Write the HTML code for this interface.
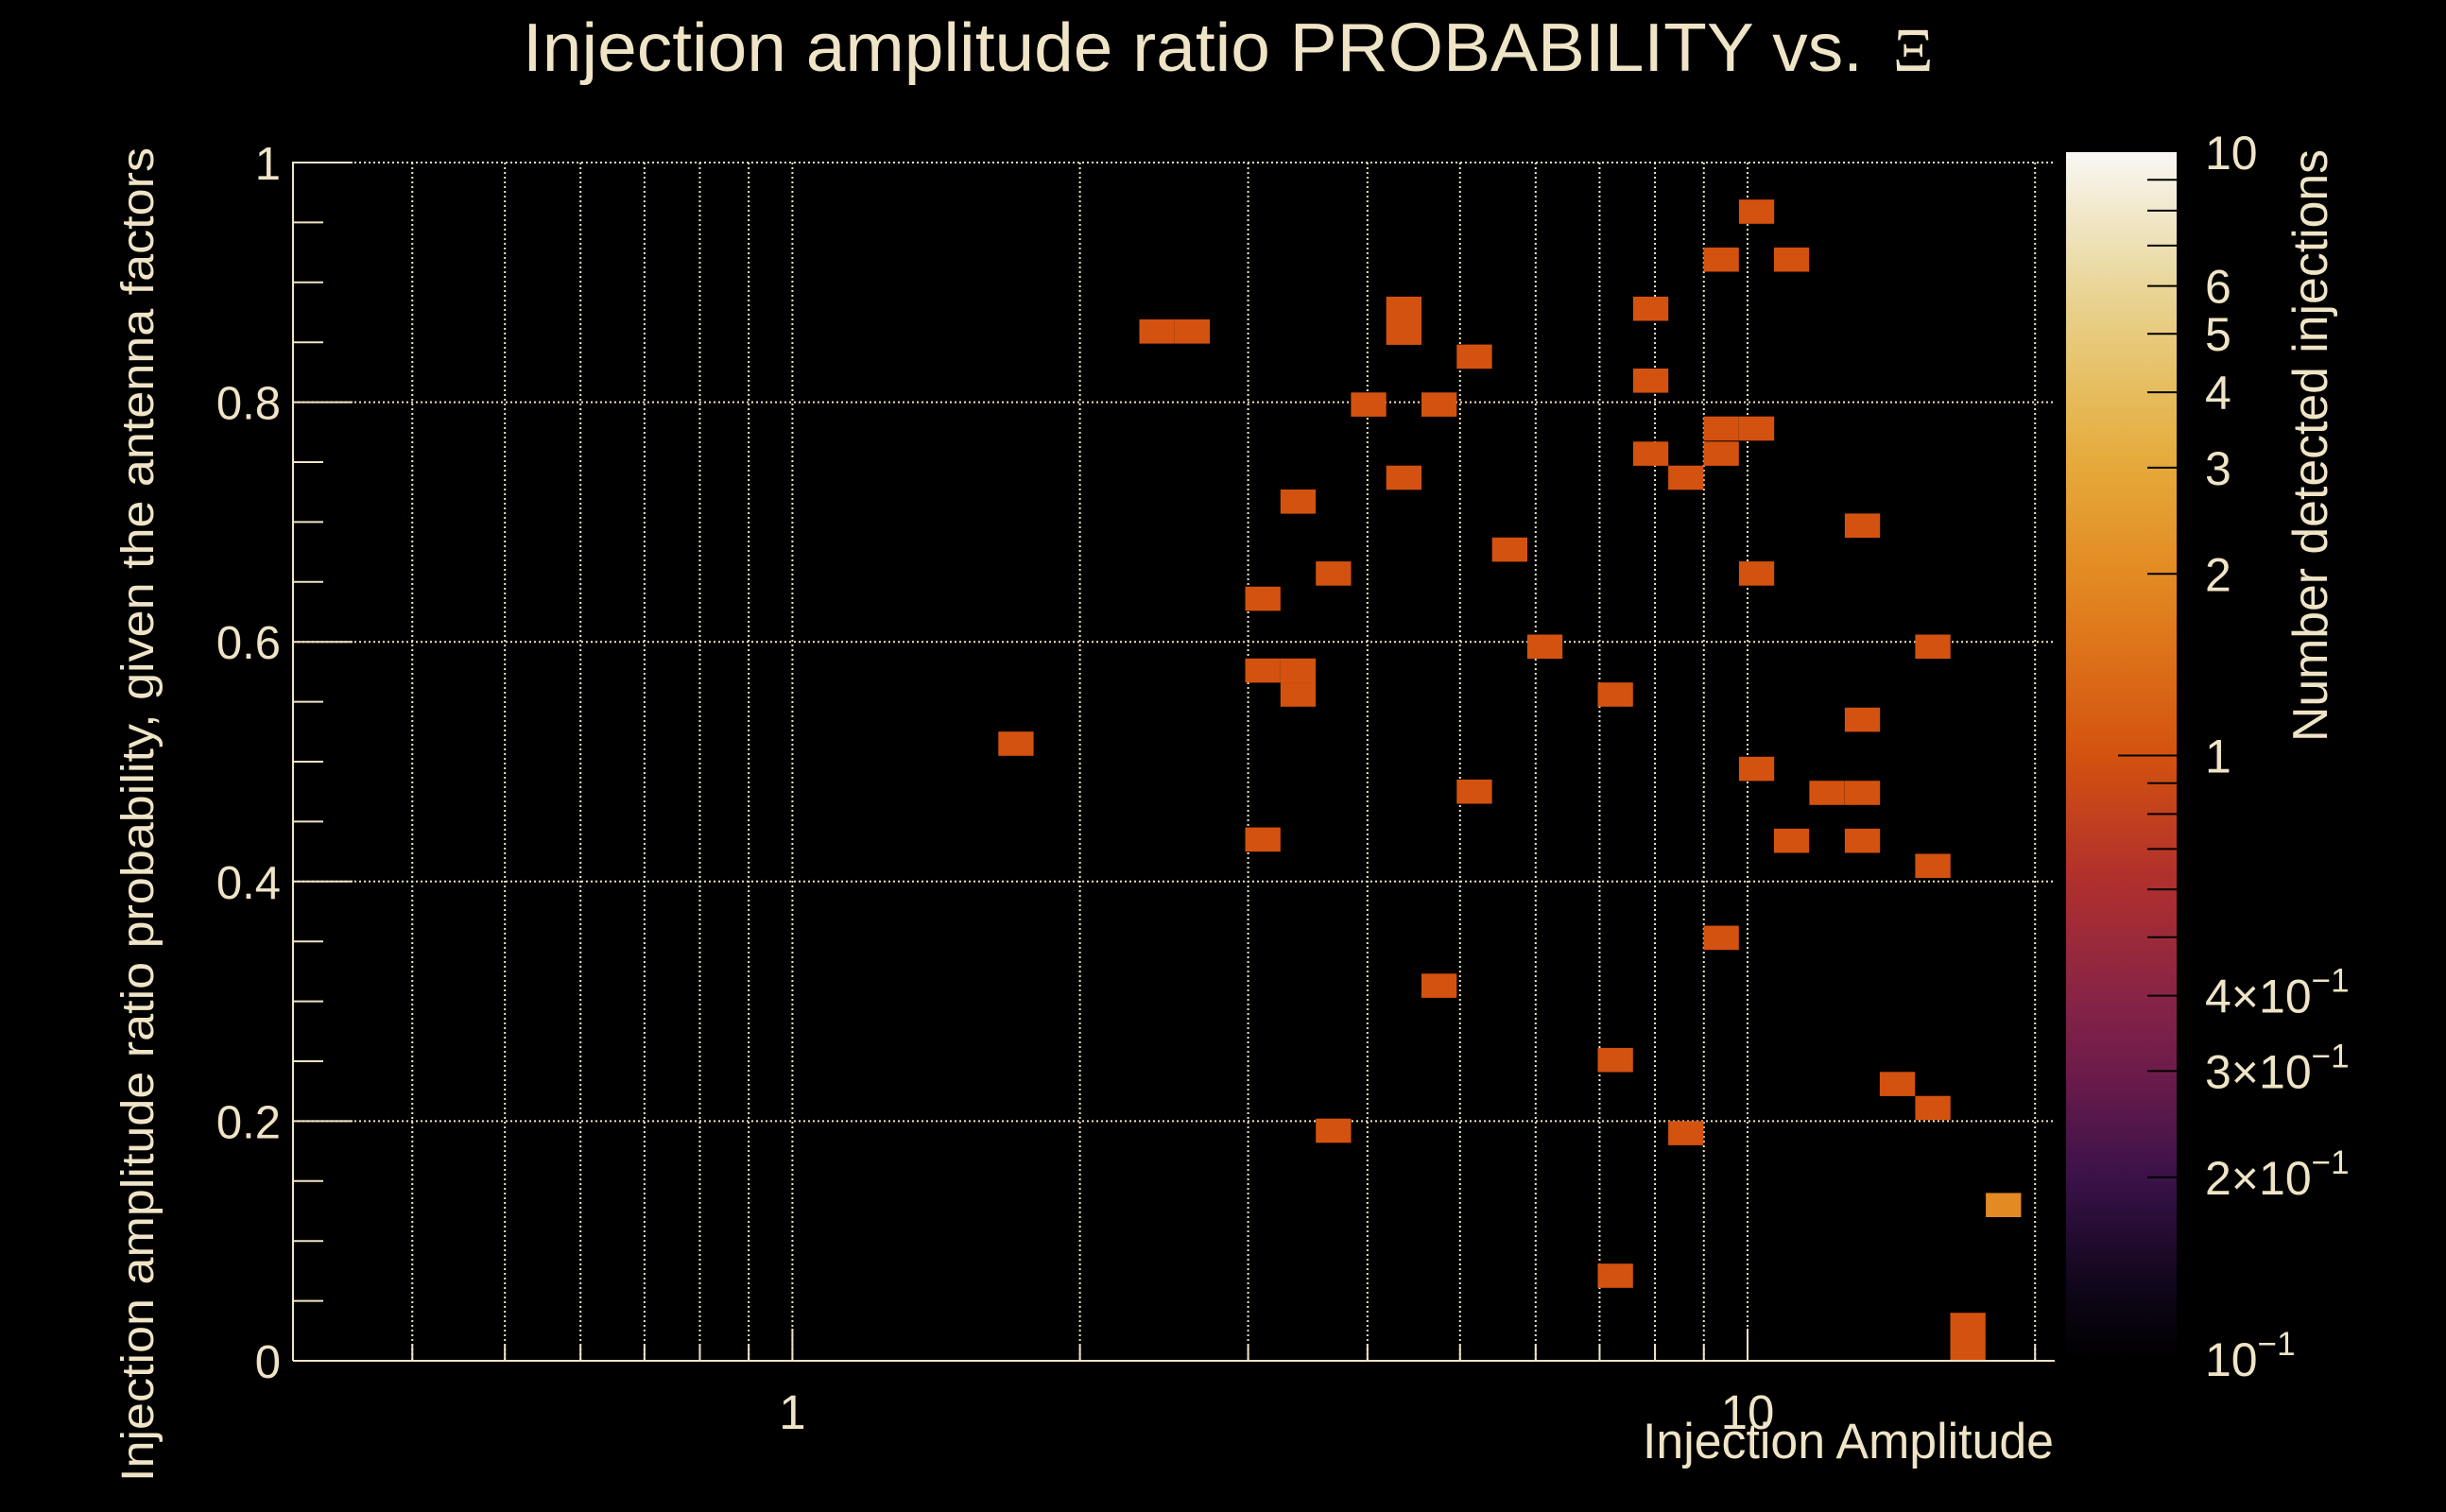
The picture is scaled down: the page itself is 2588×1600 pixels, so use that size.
<!DOCTYPE html>
<html>
<head>
<meta charset="utf-8">
<style>
  html, body { margin:0; padding:0; background:#000; }
  svg { display:block; }
  text { font-family: "Liberation Sans", sans-serif; fill:#EFE4C6; }
</style>
</head>
<body>
<svg id="chart" width="2588" height="1600" viewBox="0 0 2588 1600" xmlns="http://www.w3.org/2000/svg">
  <rect x="0" y="0" width="2588" height="1600" fill="#000"/>
  <text x="553" y="75" font-size="72" textLength="1418" lengthAdjust="spacingAndGlyphs">Injection amplitude ratio PROBABILITY vs.</text>
  <text x="2003" y="75" font-size="66" style="font-family:'Liberation Serif',serif">Ξ</text>
  <g id="grid"></g>
  <g id="cells"></g>
  <g id="axes"></g>
  <defs>
    <linearGradient id="cmap" x1="0" y1="1" x2="0" y2="0">
      <stop offset="0" stop-color="#000000"/>
      <stop offset="0.06" stop-color="#10061a"/>
      <stop offset="0.15" stop-color="#3a1249"/>
      <stop offset="0.24" stop-color="#6e1c4b"/>
      <stop offset="0.30" stop-color="#882446"/>
      <stop offset="0.40" stop-color="#b1302c"/>
      <stop offset="0.50" stop-color="#d4520f"/>
      <stop offset="0.65" stop-color="#e38a22"/>
      <stop offset="0.74" stop-color="#e5a93a"/>
      <stop offset="0.80" stop-color="#e6bc5c"/>
      <stop offset="0.89" stop-color="#e9d699"/>
      <stop offset="1" stop-color="#f8f7f4"/>
    </linearGradient>
  </defs>
  <rect x="2186" y="161" width="117" height="1277" fill="url(#cmap)"/>
  <g id="cbar"></g>
  <text x="2173" y="1543" font-size="53" text-anchor="end" textLength="435" lengthAdjust="spacingAndGlyphs">Injection Amplitude</text>
  <text transform="translate(162,1568) rotate(-90)" x="0" y="0" font-size="48" textLength="1412" lengthAdjust="spacingAndGlyphs">Injection amplitude ratio probability, given the antenna factors</text>
  <text transform="translate(2462,785) rotate(-90)" x="0" y="0" font-size="52" textLength="627" lengthAdjust="spacingAndGlyphs">Number detected injections</text>
</svg>
<script>
// ---- data ----
const amplitudes = [1.714,2.408,2.622,3.108,3.108,3.384,3.384,3.108,3.384,3.685,3.685,4.011,4.367,4.367,4.367,4.754,4.754,5.176,5.176,5.636,6.135,7.272,7.272,7.272,7.918,7.918,7.918,8.619,8.619,9.385,9.385,9.385,9.385,10.22,10.22,10.22,10.22,11.12,11.12,12.11,13.19,13.19,13.19,13.19,14.35,15.63,15.63,15.63,17.01,17.01,18.53];
const probabilities = [0.515,0.859,0.859,0.636,0.576,0.576,0.556,0.435,0.717,0.657,0.192,0.798,0.878,0.858,0.737,0.798,0.313,0.838,0.475,0.677,0.596,0.556,0.251,0.071,0.878,0.818,0.757,0.737,0.190,0.919,0.778,0.757,0.353,0.959,0.778,0.657,0.494,0.919,0.434,0.474,0.697,0.535,0.474,0.434,0.231,0.596,0.413,0.211,0.030,0.010,0.130];
const counts = [1,1,1,1,1,1,1,1,1,1,1,1,1,1,1,1,1,1,1,1,1,1,1,1,1,1,1,1,1,1,1,1,1,1,1,1,1,1,1,1,1,1,1,1,1,1,1,1,1,1,2];
const yTickValues = [0,0.2,0.4,0.6,0.8,1];
const yTickLabels = ["0","0.2","0.4","0.6","0.8","1"];
const xTickValues = [1,10];
const xTickLabels = ["1","10"];
const xMinorValues = [0.4,0.5,0.6,0.7,0.8,0.9,2,3,4,5,6,7,8,9,20];
const cbarTickValues = [10,6,5,4,3,2,1,0.4,0.3,0.2,0.1];
const cbarTickLabels = ["10","6","5","4","3","2","1","4×10","3×10","2×10","10"];
const cbarMinorValues = [0.2,0.3,0.4,0.5,0.6,0.7,0.8,0.9,2,3,4,5,6,7,8,9];

// ---- scales ----
const X0=310, X1=2174, Y0=1440, Y1=172;
const xMin=0.3, xMax=20.97;
function xScale(v){ return X0 + (Math.log10(v)-Math.log10(xMin))/(Math.log10(xMax)-Math.log10(xMin))*(X1-X0); }
function yScale(v){ return Y0 - v*(Y0-Y1); }
const CB0=1438, CB1=161;
function cScale(v){ return CB0 - (Math.log10(v)+1)/2*(CB0-CB1); }
const CELL_W=37.3, CELL_H=25.6;
const NS="http://www.w3.org/2000/svg";
const CREAM="#EFE4C6";
function mk(tag, attrs, parent){ const e=document.createElementNS(NS,tag); for(const k in attrs) e.setAttribute(k,attrs[k]); parent.appendChild(e); return e; }

const stops=[[0,[0,0,0]],[0.06,[16,6,26]],[0.15,[58,18,73]],[0.24,[110,28,75]],[0.30,[136,36,70]],[0.40,[177,48,44]],[0.50,[212,82,15]],[0.65,[227,138,34]],[0.74,[229,169,58]],[0.80,[230,188,92]],[0.89,[233,214,153]],[1,[248,247,244]]];
function colorFor(c){
  const t=Math.max(0,Math.min(1,(Math.log10(c)+1)/2));
  for(let i=1;i<stops.length;i++){ if(t<=stops[i][0]){ const a=stops[i-1],b=stops[i]; const f=(t-a[0])/(b[0]-a[0]); const r=a[1].map((v,j)=>Math.round(v+(b[1][j]-v)*f)); return `rgb(${r[0]},${r[1]},${r[2]})`; } }
  return "rgb(248,247,244)";
}

const grid=document.getElementById('grid');
const axes=document.getElementById('axes');
const cells=document.getElementById('cells');
const cbar=document.getElementById('cbar');

// grid
xMinorValues.concat(xTickValues).forEach(v=>{
  const x=xScale(v);
  const l=mk('line',{x1:x,x2:x,y1:Y1,y2:Y0,stroke:CREAM,'stroke-width':2,'stroke-dasharray':'2,3'},grid);
  
  
});
yTickValues.forEach(v=>{
  const y=yScale(v);
  const l=mk('line',{x1:X0,x2:X1,y1:y,y2:y,stroke:CREAM,'stroke-width':2,'stroke-dasharray':'2,3'},grid);
  
  
});

// cells
amplitudes.forEach((a,i)=>{
  const cx=xScale(a), cy=yScale(probabilities[i]);
  let top=cy-CELL_H/2, h=CELL_H;
  if(top+h>Y0){ h=Y0-top; }
  const r=mk('rect',{x:(cx-CELL_W/2).toFixed(1),y:top.toFixed(1),width:CELL_W,height:h.toFixed(1),fill:colorFor(counts[i])},cells);
  
  
});

// axes
let ax=mk('line',{x1:X0,x2:X0,y1:Y1-1,y2:Y0,stroke:CREAM,'stroke-width':2},axes);


ax=mk('line',{x1:X0,x2:X1,y1:Y0,y2:Y0,stroke:CREAM,'stroke-width':2},axes);



yTickValues.forEach((v,i)=>{
  const y=yScale(v);
  const t=mk('line',{x1:X0,x2:X0+63,y1:y,y2:y,stroke:CREAM,'stroke-width':2},axes);
  
  
  const lb=mk('text',{x:297,y:y+18,'font-size':49,'text-anchor':'end'},axes);
  lb.textContent=yTickLabels[i];
  
  
});
for(let k=0;k<=20;k++){
  if(k%4===0) continue;
  const y=yScale(k*0.05);
  const t=mk('line',{x1:X0,x2:X0+32,y1:y,y2:y,stroke:CREAM,'stroke-width':2},axes);
  
  
}
xTickValues.forEach((v,i)=>{
  const x=xScale(v);
  const t=mk('line',{x1:x,x2:x,y1:Y0,y2:Y0-34,stroke:CREAM,'stroke-width':2},axes);
  
  
  const lb=mk('text',{x:x,y:1512,'font-size':51,'text-anchor':'middle'},axes);
  lb.textContent=xTickLabels[i];
  
  
});
xMinorValues.forEach(v=>{
  const x=xScale(v);
  const t=mk('line',{x1:x,x2:x,y1:Y0,y2:Y0-17,stroke:CREAM,'stroke-width':2},axes);
  
  
});

// color bar axis
cbarMinorValues.forEach(v=>{
  const y=cScale(v);
  const t=mk('line',{x1:2272,x2:2303,y1:y,y2:y,stroke:'#000','stroke-width':2},cbar);
  
  
});
{
  const y=cScale(1);
  const t=mk('line',{x1:2241,x2:2303,y1:y,y2:y,stroke:'#000','stroke-width':2},cbar);
  
  
}
cbarTickValues.forEach((v,i)=>{
  const y=cScale(v);
  const lb=mk('text',{x:2333,y:(y+18).toFixed(1),'font-size':50},cbar);
  lb.textContent=cbarTickLabels[i];
  if(v<1){
    const s=mk('tspan',{dy:-22,'font-size':35},lb);
    s.textContent='−1';
  }
  
  
});
</script>
</body>
</html>
